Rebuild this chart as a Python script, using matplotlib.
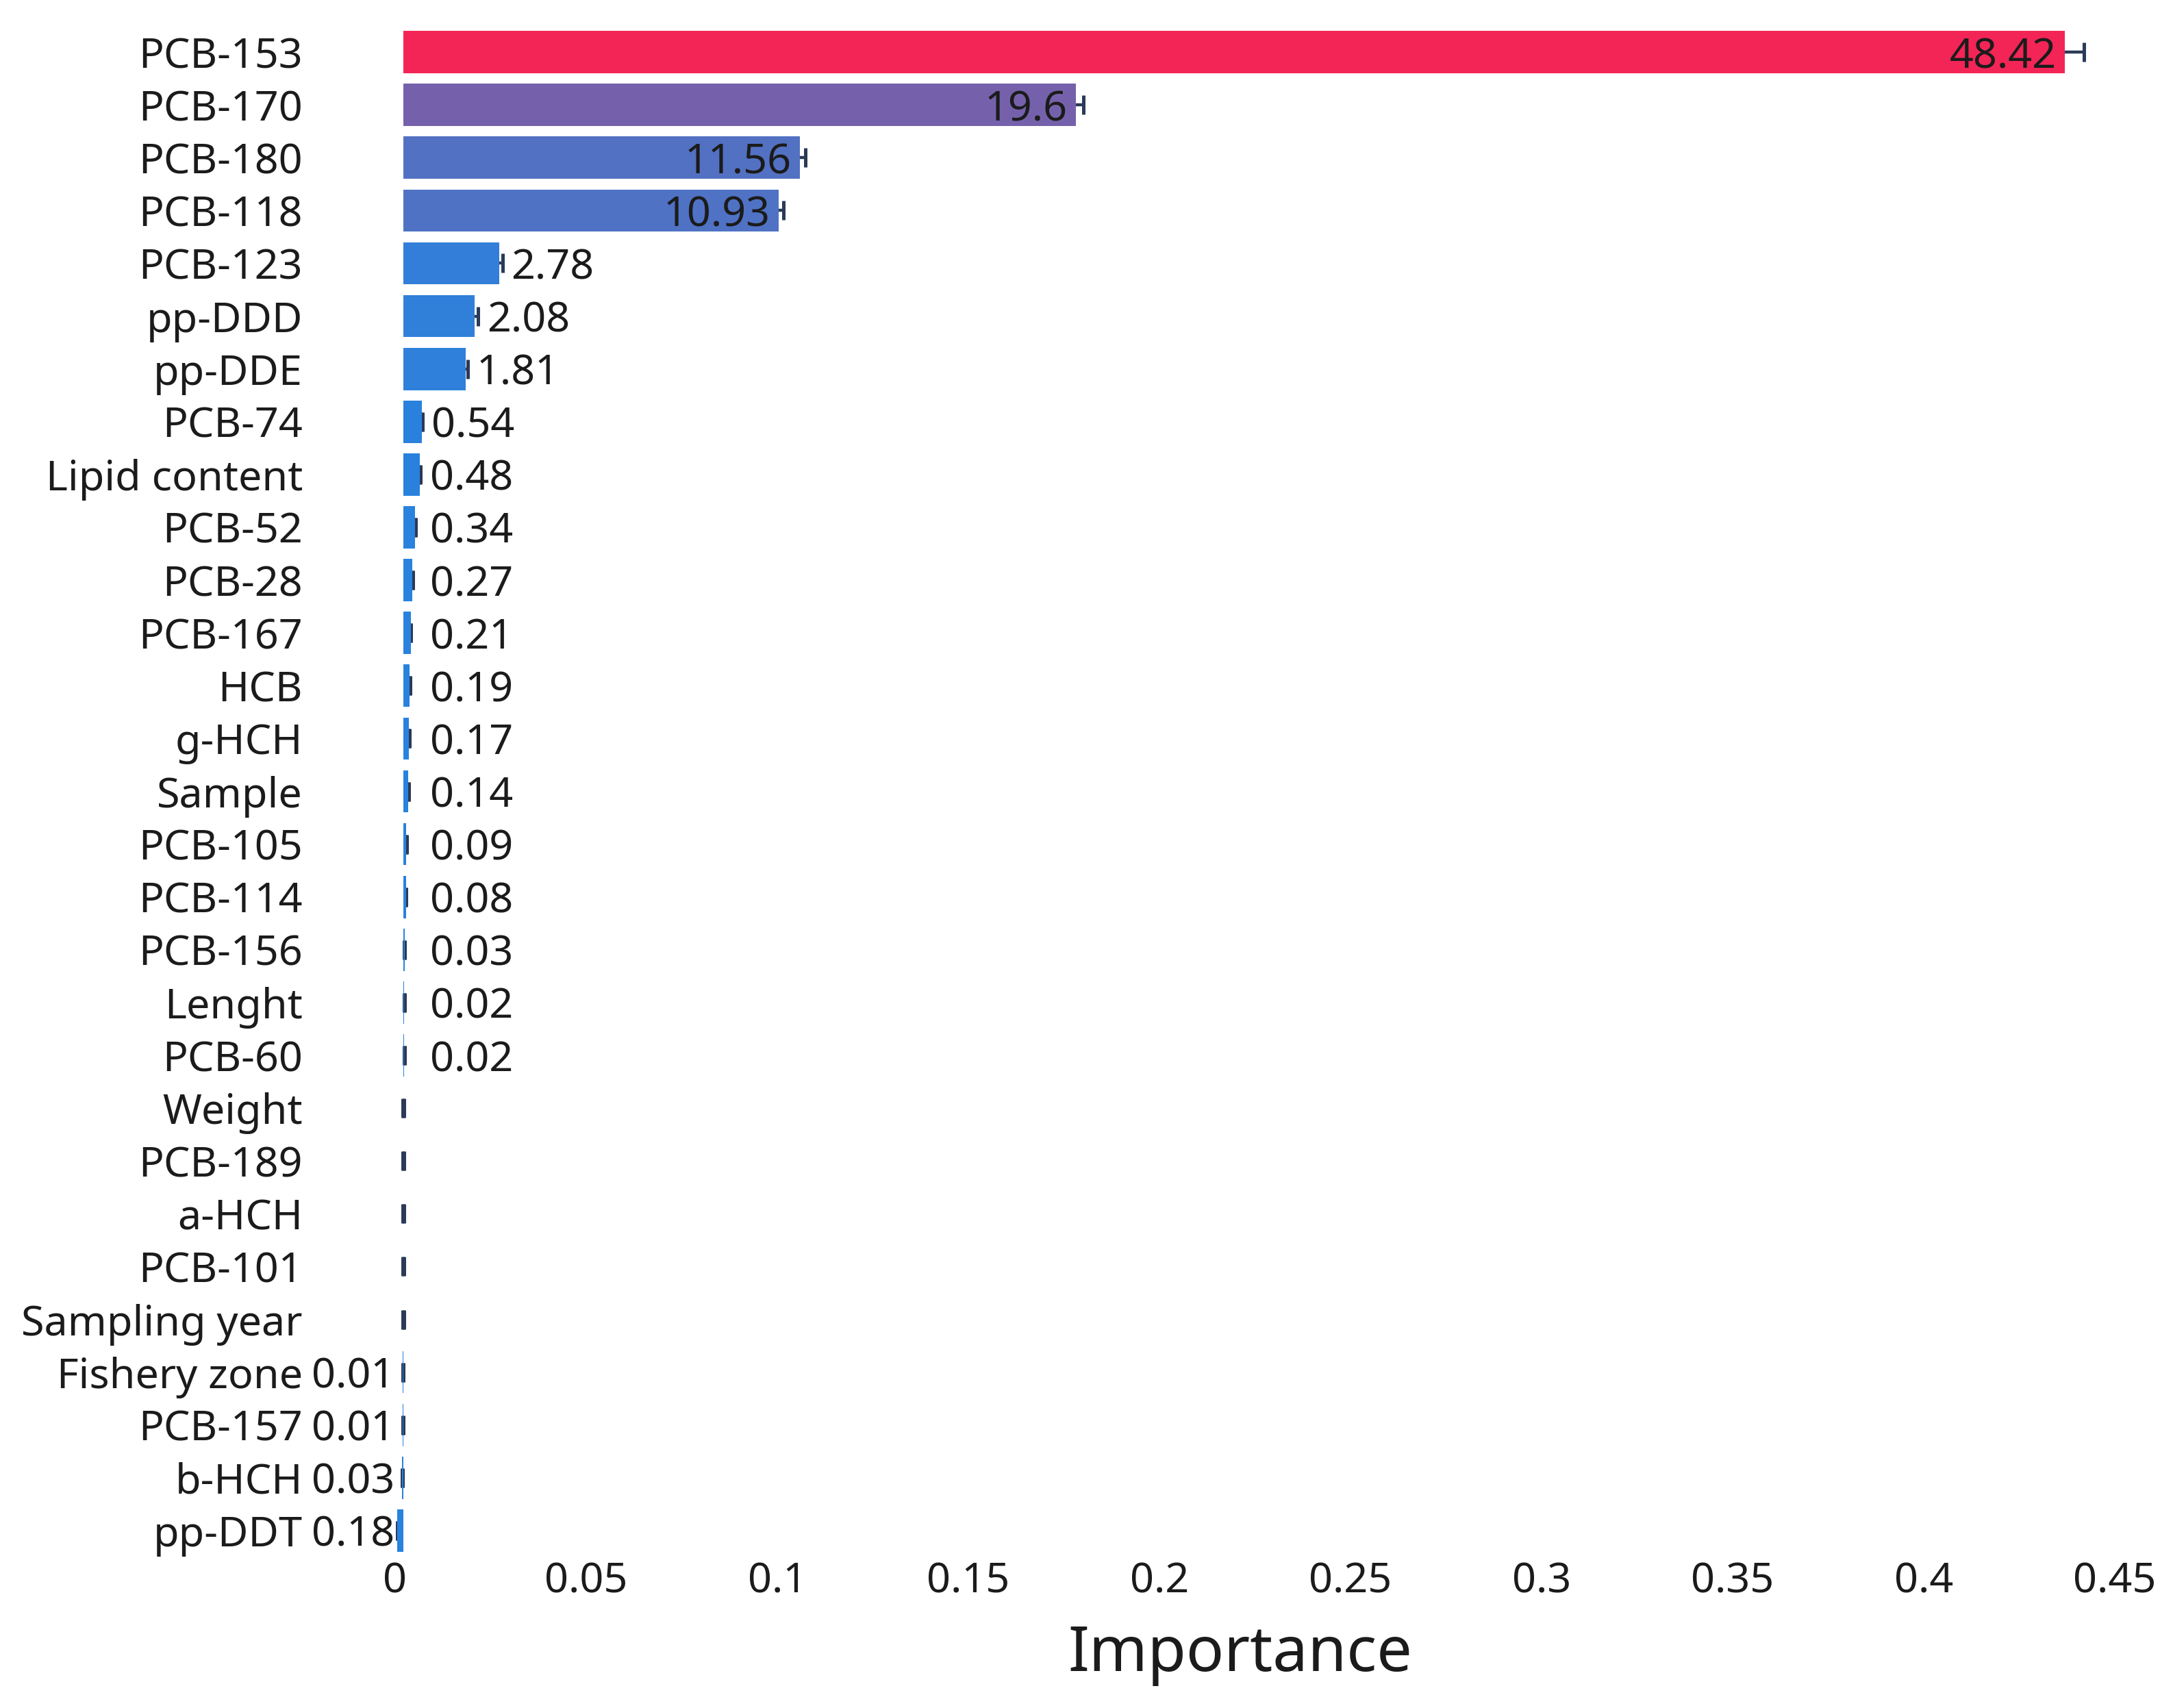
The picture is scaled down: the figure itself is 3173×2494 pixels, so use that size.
import matplotlib
matplotlib.use("Agg")
import matplotlib.pyplot as plt
from matplotlib.colors import LinearSegmentedColormap, Normalize
from matplotlib.transforms import ScaledTranslation

features = ["PCB-153", "PCB-170", "PCB-180", "PCB-118", "PCB-123", "pp-DDD", "pp-DDE",
            "PCB-74", "Lipid content", "PCB-52", "PCB-28", "PCB-167", "HCB", "g-HCH",
            "Sample", "PCB-105", "PCB-114", "PCB-156", "Lenght", "PCB-60", "Weight",
            "PCB-189", "a-HCH", "PCB-101", "Sampling year", "Fishery zone", "PCB-157",
            "b-HCH", "pp-DDT"]
importance = [0.4348, 0.1760, 0.1038, 0.0982, 0.0250, 0.0187, 0.0163,
              0.0048, 0.0043, 0.0031, 0.0024, 0.0019, 0.0017, 0.0015,
              0.0013, 0.0008, 0.0007, 0.0003, 0.0002, 0.0002, 0.0,
              0.0, 0.0, 0.0, 0.0, -0.0001, -0.0001,
              -0.0003, -0.0016]
error = [0.0050, 0.0020, 0.0014, 0.0013, 0.0009, 0.0009, 0.0005,
         0.0002, 0.0001, 0.0001, 0.0001, 0.0001, 0.0001, 0.0001,
         0.0001, 0.0001, 0.0001, 0.0001, 0.0001, 0.0001, 0.0001,
         0.0001, 0.0001, 0.0001, 0.0001, 0.0001, 0.0001,
         0.0001, 0.0001]
pct_labels = ["48.42", "19.6", "11.56", "10.93", "2.78", "2.08", "1.81",
              "0.54", "0.48", "0.34", "0.27", "0.21", "0.19", "0.17",
              "0.14", "0.09", "0.08", "0.03", "0.02", "0.02", "",
              "", "", "", "", "0.01", "0.01",
              "0.03", "0.18"]
xticks = [0, 0.05, 0.1, 0.15, 0.2, 0.25, 0.3, 0.35, 0.4, 0.45]
xtick_labels = ["0", "0.05", "0.1", "0.15", "0.2", "0.25", "0.3", "0.35", "0.4", "0.45"]

plt.rcParams['font.family'] = ['Noto Sans', 'DejaVu Sans']
TXT = '#1b1b1b'
ERRC = '#2a3a57'

W, H, DPI = 3173, 2494, 100
fig = plt.figure(figsize=(W / DPI, H / DPI), dpi=DPI, facecolor='white')
ax_left, ax_right = 578, 3133
ax_top, ax_bot = 37.5, 2273.5
ax = fig.add_axes([ax_left / W, (H - ax_bot) / H, (ax_right - ax_left) / W, (ax_bot - ax_top) / H])

cmap = LinearSegmentedColormap.from_list(
    'imp', [(0.0, '#2882DE'), (0.23, '#5072C4'), (1.0, '#F32556')])
norm = Normalize(vmin=0, vmax=max(importance))
colors = [cmap(norm(max(v, 0))) for v in importance]

y = list(range(len(features)))
ax.errorbar(importance, y, xerr=error, fmt='none', ecolor=ERRC,
            elinewidth=3.2, capsize=10.4, capthick=3.6, zorder=1)
ax.barh(y, importance, height=0.8, color=colors, zorder=2)

px_pt = 72 / DPI
for yi, v, e, lab in zip(y, importance, error, pct_labels):
    if not lab:
        continue
    if v > 0.05:
        ax.annotate(lab, (v, yi), xytext=(-12 * px_pt, 0), textcoords='offset points',
                    ha='right', va='center_baseline', fontsize=44, color=TXT, zorder=5)
    elif v > 0:
        ax.annotate(lab, (max(v + e, 0.0047), yi), xytext=(13 * px_pt, 0),
                    textcoords='offset points', ha='left', va='center_baseline',
                    fontsize=44, color=TXT, zorder=5)
    else:
        ax.annotate(lab, (0, yi), xytext=(-13 * px_pt, 0), textcoords='offset points',
                    ha='right', va='center_baseline', fontsize=44, color=TXT, zorder=5)

ax.set_xlim(-11 / 5580, (ax_right - 589) / 5580)
ax.set_ylim(len(features) - 0.5, -0.5)
ax.set_yticks(y)
ax.set_yticklabels(features, fontsize=44, color=TXT)
ax.set_xticks(xticks)
ax.set_xticklabels(xtick_labels, fontsize=44, color=TXT)
ax.tick_params(axis='y', length=0, pad=98)
ax.tick_params(axis='x', length=0, pad=4)
for lbl in ax.get_xticklabels():
    lbl.set_transform(lbl.get_transform() + ScaledTranslation(-12 / DPI, 0, fig.dpi_scale_trans))
for s in ax.spines.values():
    s.set_visible(False)
ax.grid(False)

fig.text(1811 / W, (H - 2440) / H, "Importance", ha='center', va='baseline',
         fontsize=66, color=TXT)

fig.savefig("out.png", dpi=DPI, facecolor='white')
